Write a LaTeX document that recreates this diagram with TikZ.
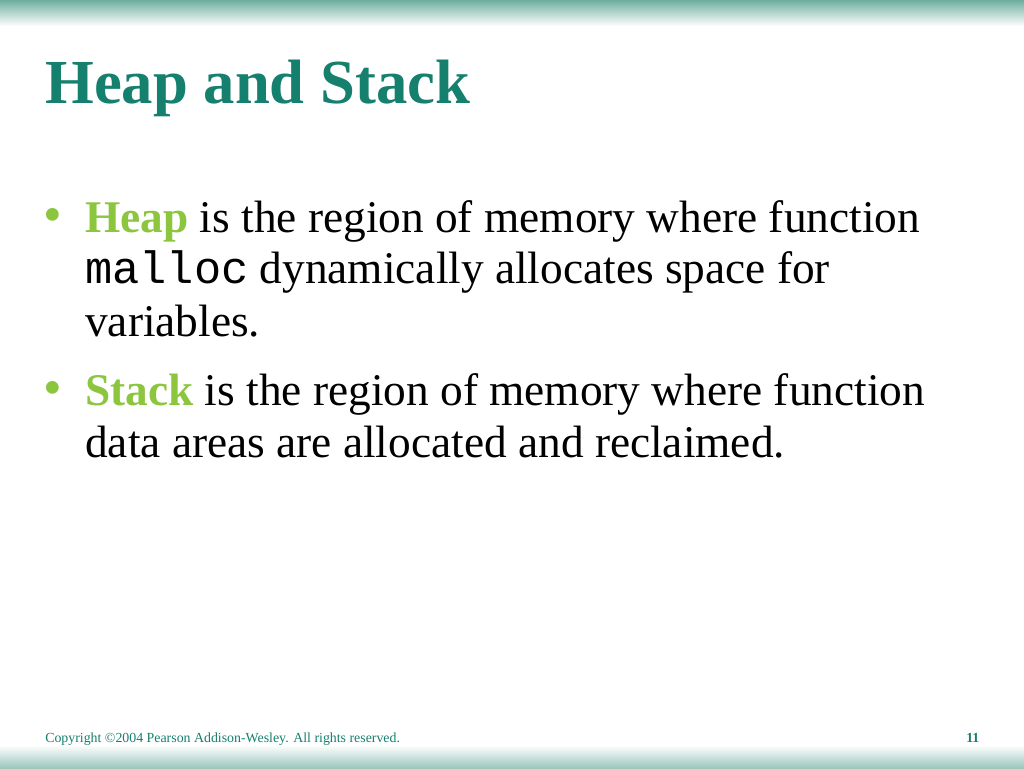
\documentclass[tikz,border=0pt]{standalone}
\usepackage{fontspec}
\setmainfont{Liberation Serif}
\setmonofont{Liberation Mono}
\definecolor{teal1}{HTML}{16806F}
\definecolor{band}{HTML}{6FAE9F}
\definecolor{band2}{HTML}{9CC7BC}
\definecolor{lime}{HTML}{8CC63F}
\begin{document}
\begin{tikzpicture}[x=0.75pt,y=-0.75pt,
  body/.style={anchor=base west,inner sep=0pt,font=\fontsize{34}{40}\selectfont},
  bul/.style={anchor=base west,inner sep=0pt,text=lime,font=\fontsize{40}{40}\selectfont},
  foot/.style={anchor=base west,inner sep=0pt,text=teal1,font=\fontsize{10.4}{12}\selectfont}]
\useasboundingbox (0,0) rectangle (1024,768);
\fill[white] (0,0) rectangle (1024,768);
\shade[top color=band,bottom color=white] (0,0) rectangle (1024,26);
\shade[top color=white,bottom color=band2] (0,745) rectangle (1024,768);
\node[anchor=base west,inner sep=0pt,text=teal1,font=\fontsize{47}{56}\selectfont\bfseries] (title) at (45,103) {Heap and Stack};
\node[bul] (b1) at (43,232) {•};
\node[body] (l1) at (85,232) {\textcolor{lime}{\bfseries Heap} is the region of memory where function};
\node[body] (l2) at (85,283) {\texttt{malloc} dynamically allocates space for};
\node[body] (l3) at (85,336) {variables.};
\node[bul] (b2) at (43,405) {•};
\node[body] (l4) at (85,405) {\textcolor{lime}{\bfseries Stack} is the region of memory where function};
\node[body] (l5) at (85,457) {data areas are allocated and reclaimed.};
\node[foot] (copy) at (45,742) {Copyright ©2004 Pearson Addison-Wesley. All rights reserved.};
\node[foot,font=\fontsize{10.4}{12}\selectfont\bfseries] (num) at (966,742) {11};
\end{tikzpicture}
\end{document}
